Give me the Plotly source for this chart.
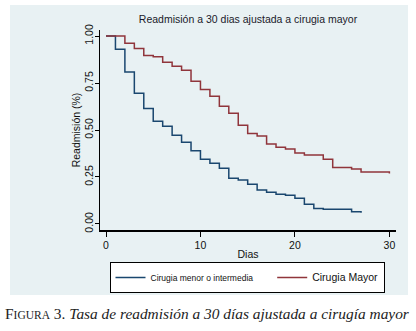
import plotly.graph_objects as go

# Data (Kaplan-Meier style step curves)
dias_menor = [0, 1, 2, 3, 4, 5, 6, 7, 8, 9, 10, 11, 12, 13, 14, 15, 16, 17, 18, 19, 20, 21, 22, 23, 26, 27]
readm_menor = [1.0, 0.929, 0.809, 0.695, 0.615, 0.546, 0.52, 0.472, 0.435, 0.39, 0.344, 0.323, 0.296,
               0.243, 0.234, 0.211, 0.181, 0.169, 0.158, 0.153, 0.137, 0.105, 0.083, 0.078, 0.065, 0.06]

dias_mayor = [0, 2, 3, 4, 5, 6, 7, 8, 9, 10, 11, 12, 13, 14, 15, 16, 17, 18, 19, 20, 21, 23, 24, 26, 27, 30]
readm_mayor = [1.0, 0.961, 0.933, 0.897, 0.890, 0.860, 0.839, 0.818, 0.759, 0.716, 0.679, 0.627, 0.589,
               0.525, 0.482, 0.468, 0.426, 0.408, 0.399, 0.378, 0.367, 0.344, 0.301, 0.293, 0.277, 0.268]

x_ticks = [0, 10, 20, 30]
y_ticks = [0, 0.25, 0.5, 0.75, 1.0]

title = "Readmisión a 30 dias ajustada a cirugia mayor"
caption = ("F<span style='font-size:11.5px'>IGURA</span> 3. "
           "<i>Tasa de readmisión a 30 días ajustada a cirugía mayor</i>")

BG = "#e8f1f3"
BLUE = "#1a476f"
RED = "#90353b"

fig = go.Figure()
fig.add_trace(go.Scatter(
    x=dias_menor, y=readm_menor, mode="lines", line=dict(color=BLUE, width=1.5, shape="hv"),
    name="<span style='font-size:8.5px'>Cirugia menor o intermedia" + "&nbsp;" * 6 + "</span>"))
fig.add_trace(go.Scatter(
    x=dias_mayor, y=readm_mayor, mode="lines", line=dict(color=RED, width=1.5, shape="hv"),
    name="<span style='font-size:10.5px'>Cirugia Mayor</span>"))

# outer graph region (light blue)
fig.add_shape(type="rect", xref="paper", yref="paper",
              x0=(10 - 100) / 296, x1=(408 - 100) / 296,
              y0=(230 - 295) / 200, y1=(230 - 5) / 200,
              fillcolor=BG, line=dict(width=0), layer="below")

fig.update_layout(
    width=416, height=331,
    margin=dict(l=100, r=20, t=30, b=101, autoexpand=False),
    paper_bgcolor="white", plot_bgcolor="white",
    font=dict(family="Liberation Sans, Arial, sans-serif", color="#111111", size=10),
    title=dict(text=title, x=0.5, xref="paper", xanchor="center",
               y=1 - 19 / 331, yanchor="middle", font=dict(size=10.5, color="#1a1a2a")),
    showlegend=True,
    hovermode=False,
    legend=dict(orientation="h", x=(247 - 100) / 296, xanchor="center",
                y=-(262 - 230) / 200, yanchor="top",
                bgcolor="white", bordercolor="black", borderwidth=1,
                font=dict(size=10), traceorder="normal"),
    annotations=[dict(text=caption, xref="paper", yref="paper",
                      x=(3 - 100) / 296, xanchor="left",
                      y=(230 - 313) / 200, yanchor="middle", showarrow=False,
                      font=dict(family="Liberation Serif, Times New Roman, serif", size=15.4,
                                color="#222222"))],
)

fig.update_xaxes(range=[-0.635, 30.7], tickvals=x_ticks, ticks="outside", ticklen=5,
                 tickcolor="black", showline=True, linecolor="black", linewidth=1.5,
                 showgrid=False, zeroline=False, automargin=False,
                 title=dict(text="Dias", standoff=0, font=dict(size=10.5)),
                 tickfont=dict(size=10.5))
fig.update_yaxes(range=[-0.032, 1.032], tickvals=y_ticks, tickformat=".2f", ticks="outside",
                 ticklen=4, tickcolor="black", tickangle=-90, ticklabelstandoff=-3,
                 showline=True, linecolor="black", linewidth=1.5,
                 showgrid=True, gridcolor=BG, gridwidth=1, zeroline=False, automargin=False,
                 title=dict(text="Readmisión (%)", standoff=0, font=dict(size=10.5)),
                 tickfont=dict(size=10.5))

fig.write_html("out.html", config={"displayModeBar": False, "staticPlot": True},
               post_script="document.body.style.margin='0';document.body.style.overflow='hidden';")
